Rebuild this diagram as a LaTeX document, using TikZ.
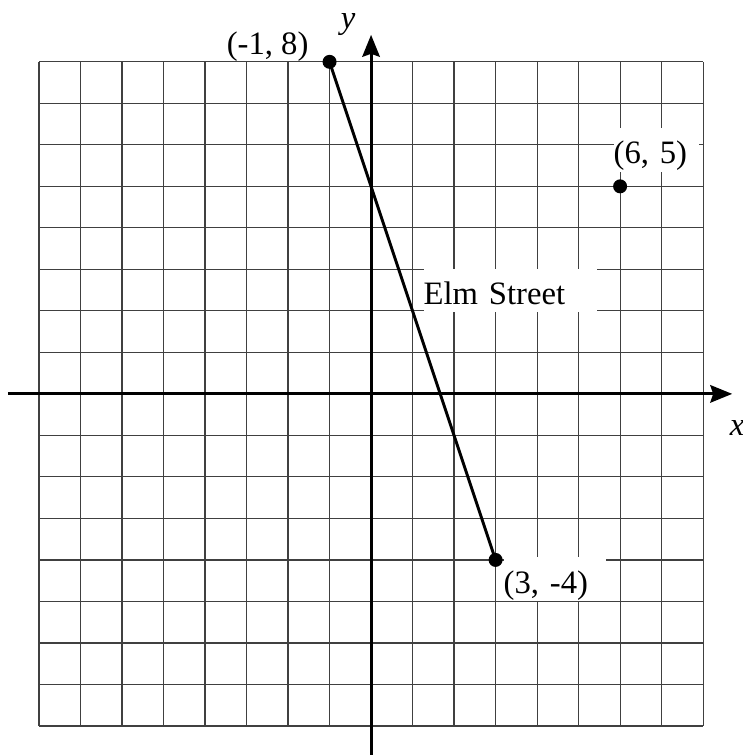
\documentclass[tikz,border=0pt]{standalone}
\usepackage{fontspec}
\setmainfont{Liberation Serif}
\usetikzlibrary{arrows.meta,positioning}

\begin{document}
\begin{tikzpicture}[x=0.5cm, y=0.5cm,
  gridline/.style={black!75, line width=0.4pt},
  axisline/.style={line width=1pt, -{Stealth[length=7.5pt, width=6pt, inset=1pt]}},
  dot/.style={circle, fill=black, inner sep=0pt, minimum size=4.8pt},
  ptlabel/.style={font=\fontsize{11.2}{13}\selectfont, inner sep=0pt},
  whitebox/.style={ptlabel, fill=white, align=left, text height=12.2pt, text depth=2.8pt, anchor=south west}]
\useasboundingbox (-8.94,-8.70) rectangle (8.96,9.49);

% --- Grid ---
\draw[gridline, step=0.5cm] (-8,-8) grid (8,8);

% --- Axes ---
\coordinate (xl) at (-8.75,0);
\coordinate (xr) at (8.7,0);
\coordinate (yb) at (0,-8.8);
\coordinate (yt) at (0,8.65);
\draw[axisline] (xl) -- (xr);
\draw[axisline] (yb) -- (yt);
\node[ptlabel] (xlab) at (8.82,-0.82) {\textit{x}};
\node[ptlabel] (ylab) at (-0.55,8.9) {\textit{y}};

% --- Points ---
\node[dot] (pA) at (-1,8) {};
\node[dot] (pB) at (3,-4) {};
\node[dot] (pC) at (6,5) {};

% Elm Street
\draw[line width=1pt] (pA.center) -- (pB.center);

% --- Labels ---
\node[ptlabel, anchor=base west] (labA) at (-3.49,8.17) {(-1, 8)};
\node[whitebox, text width=35pt] (labB) at (3.18,-5.01) {(3, -4)};
\node[whitebox, text width=29.1pt] (labC) at (5.83,5.33) {(6, 5)};
\node[whitebox, text width=59.6pt] (elm) at (1.25,1.95) {Elm Street};

\end{tikzpicture}
\end{document}
